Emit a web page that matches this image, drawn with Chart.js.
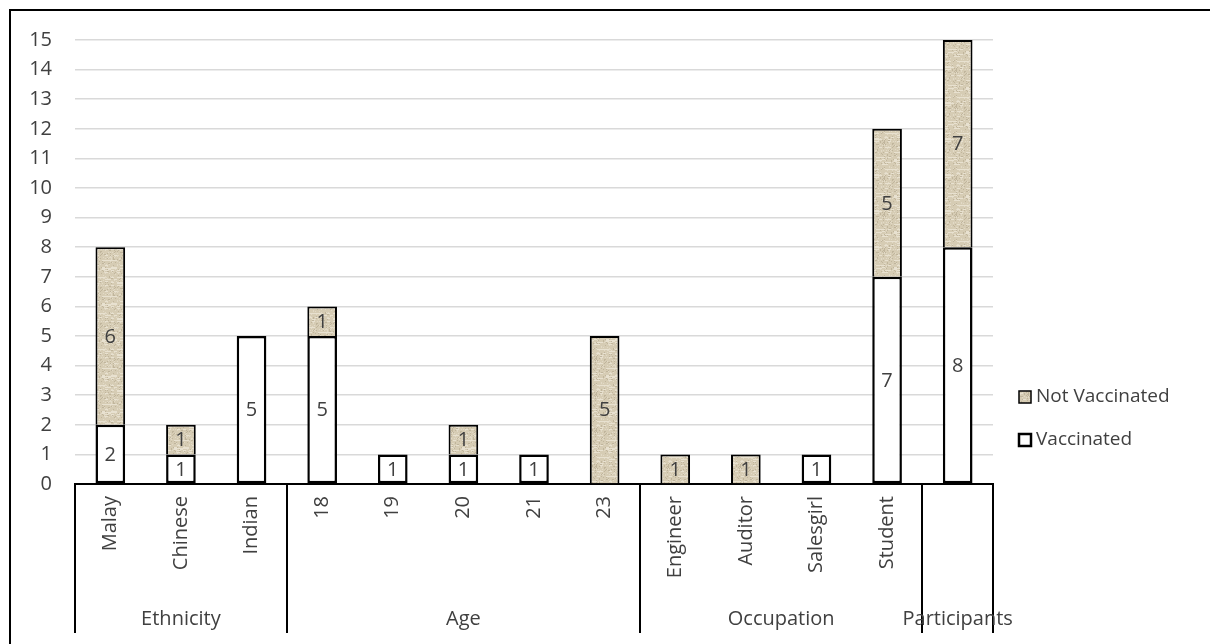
<!DOCTYPE html>
<html>
<head>
<meta charset="utf-8">
<script src="https://cdn.jsdelivr.net/npm/chart.js@4/dist/chart.umd.min.js"></script>
<style>
  html, body { margin: 0; padding: 0; background: #fff; }
  #wrap { position: relative; width: 1210px; height: 644px; overflow: hidden; }
  #frame { position: absolute; left: 9px; top: 9px; width: 1400px; height: 800px;
           border-top: 2px solid #000; border-left: 2px solid #000; }
  canvas { position: absolute; left: 0; top: 0; }
</style>
</head>
<body>
<div id="wrap">
  <div id="frame"></div>
  <canvas id="chart" width="1210" height="644"></canvas>
</div>
<script>
// Categories along the x axis (last one is the overall participant total)
const categories = ['Malay', 'Chinese', 'Indian', '18', '19', '20', '21', '23',
                    'Engineer', 'Auditor', 'Salesgirl', 'Student', ''];
// Outer grouping row under the category labels
const groupNames = ['Ethnicity', 'Age', 'Occupation', 'Participants'];
const groupSizes = [3, 5, 4, 1];
// Series values
const vaccinated    = [2, 1, 5, 5, 1, 1, 1, 0, 0, 0, 1, 7, 8];
const notVaccinated = [6, 1, 0, 1, 0, 1, 0, 5, 1, 1, 0, 5, 7];
// Value axis ticks
const yTicks = [0, 1, 2, 3, 4, 5, 6, 7, 8, 9, 10, 11, 12, 13, 14, 15];

const FONT = '"Open Sans", "Liberation Sans", sans-serif';
const TEXT = '#404040';

// Burlap-like fill for the "Not Vaccinated" series
function burlapPattern() {
  const s = 36;
  const c = document.createElement('canvas');
  c.width = s; c.height = s;
  const g = c.getContext('2d');
  const img = g.createImageData(s, s);
  const hash = (x, y) => {
    let h = (x * 374761393 + y * 668265263) >>> 0;
    h = ((h ^ (h >>> 13)) * 1274126177) >>> 0;
    return ((h ^ (h >>> 16)) >>> 0) / 4294967296;
  };
  for (let y = 0; y < s; y++) {
    const row = hash(7, y * 3 + 1);
    for (let x = 0; x < s; x++) {
      let r = 214, gg = 204, b = 180;
      const n = hash(x, y);
      const streak = hash(Math.floor(x / 3), y);
      if (row > 0.55 && streak > 0.55) { r = 232; gg = 225; b = 208; }
      else if (n > 0.9) { r = 192; gg = 181; b = 156; }
      else if (n < 0.12) { r = 226; gg = 218; b = 199; }
      const i = (y * s + x) * 4;
      img.data[i] = r; img.data[i + 1] = gg; img.data[i + 2] = b; img.data[i + 3] = 255;
    }
  }
  g.putImageData(img, 0, 0);
  return g.createPattern(c, 'repeat');
}
const burlap = burlapPattern();

// Numbers printed in the middle of each stacked segment
const segmentLabels = {
  id: 'segmentLabels',
  afterDatasetsDraw(chart) {
    const ctx = chart.ctx;
    ctx.save();
    ctx.font = '20px ' + FONT;
    ctx.fillStyle = TEXT;
    ctx.textAlign = 'center';
    ctx.textBaseline = 'middle';
    chart.data.datasets.forEach((ds, di) => {
      const meta = chart.getDatasetMeta(di);
      meta.data.forEach((el, i) => {
        const v = ds.data[i];
        if (v === null || v === 0) return;
        ctx.fillText(String(v), el.x, (el.y + el.base) / 2 + 1);
      });
    });
    ctx.restore();
  }
};

// Group separators and group names under the rotated category labels
const groupAxis = {
  id: 'groupAxis',
  afterDraw(chart) {
    const ctx = chart.ctx;
    const xs = chart.scales.x;
    const step = (xs.right - xs.left) / categories.length;
    const top = chart.chartArea.bottom;
    const bottom = 633;
    ctx.save();
    ctx.strokeStyle = '#000';
    ctx.lineWidth = 2;
    let idx = 0;
    const bounds = [0];
    groupSizes.forEach(n => { idx += n; bounds.push(idx); });
    bounds.forEach(b => {
      const x = Math.round(xs.left + b * step);
      ctx.beginPath();
      ctx.moveTo(x, top);
      ctx.lineTo(x, bottom);
      ctx.stroke();
    });
    ctx.font = '20px ' + FONT;
    ctx.fillStyle = TEXT;
    ctx.textAlign = 'center';
    ctx.textBaseline = 'middle';
    groupNames.forEach((name, gi) => {
      const cx = xs.left + (bounds[gi] + bounds[gi + 1]) / 2 * step;
      ctx.fillText(name, cx, 619);
    });
    ctx.restore();
  }
};

// Legend drawn to the right of the plot
const sideLegend = {
  id: 'sideLegend',
  afterDraw(chart) {
    const ctx = chart.ctx;
    const items = [
      { text: 'Not Vaccinated', fill: burlap, lw: 1.5, y: 397 },
      { text: 'Vaccinated', fill: '#fff', lw: 2.5, y: 440 }
    ];
    ctx.save();
    ctx.font = '19px ' + FONT;
    ctx.textBaseline = 'middle';
    ctx.textAlign = 'left';
    items.forEach(it => {
      ctx.fillStyle = it.fill;
      ctx.fillRect(1019, it.y - 6, 12, 12);
      ctx.strokeStyle = '#000';
      ctx.lineWidth = it.lw;
      ctx.strokeRect(1019, it.y - 6, 12, 12);
      ctx.fillStyle = TEXT;
      ctx.fillText(it.text, 1036, it.y);
    });
    ctx.restore();
  }
};

new Chart(document.getElementById('chart'), {
  type: 'bar',
  data: {
    labels: categories,
    datasets: [
      {
        label: 'Vaccinated',
        data: vaccinated.map(v => v || null),
        backgroundColor: '#ffffff',
        borderColor: '#000000',
        borderWidth: 2.5,
        borderSkipped: false
      },
      {
        label: 'Not Vaccinated',
        data: notVaccinated.map(v => v || null),
        backgroundColor: burlap,
        borderColor: '#000000',
        borderWidth: 2,
        borderSkipped: 'bottom'
      }
    ]
  },
  options: {
    responsive: false,
    animation: false,
    devicePixelRatio: 1,
    layout: { padding: { left: 0, right: 217, top: 40, bottom: 10 } },
    plugins: { legend: { display: false }, tooltip: { enabled: false } },
    datasets: { bar: { categoryPercentage: 1, barPercentage: 0.42 } },
    scales: {
      x: {
        stacked: true,
        grid: { display: false, drawTicks: false },
        border: { display: true, color: '#000', width: 2 },
        ticks: {
          autoSkip: false, maxRotation: 90, minRotation: 90, padding: 12,
          color: TEXT, font: { family: FONT, size: 20 }
        },
        afterFit(scale) { scale.height = 150; }
      },
      y: {
        stacked: true,
        min: 0, max: 15,
        afterBuildTicks(scale) { scale.ticks = yTicks.map(v => ({ value: v })); },
        grid: { color: '#d9d9d9', lineWidth: 1.5, drawTicks: false },
        border: { display: false },
        ticks: { padding: 23, color: TEXT, font: { family: FONT, size: 20 } },
        afterFit(scale) { scale.width = 75; }
      }
    }
  },
  plugins: [segmentLabels, groupAxis, sideLegend]
});
</script>
</body>
</html>
